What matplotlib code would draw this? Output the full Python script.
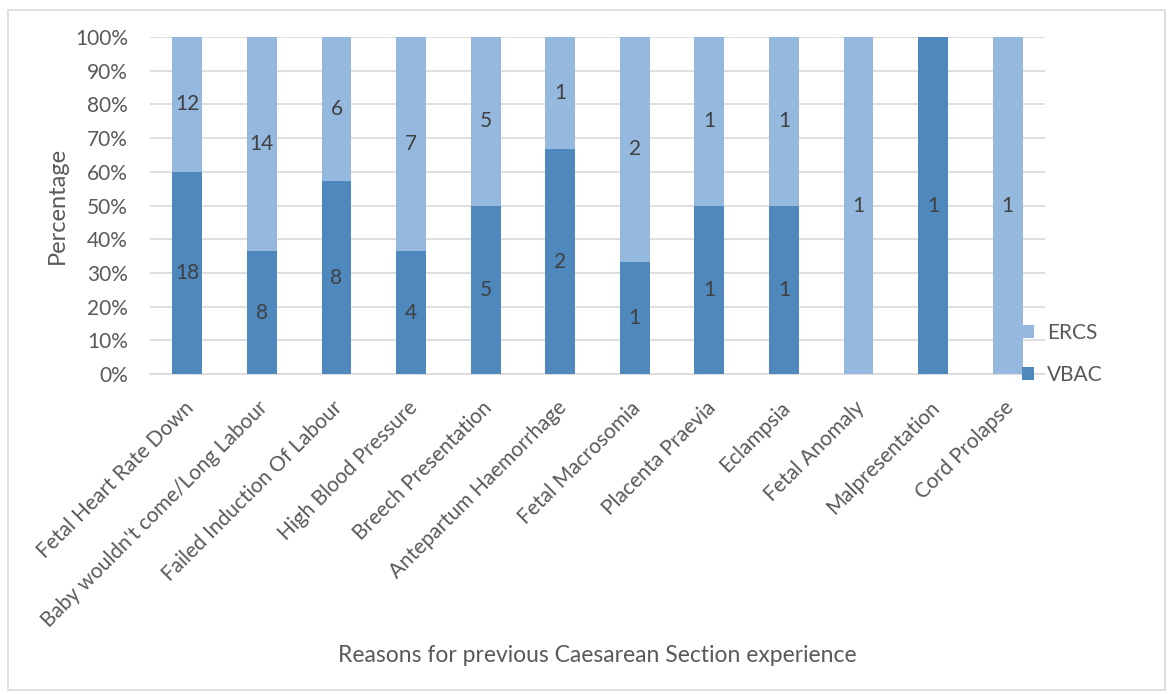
import matplotlib
matplotlib.use("Agg")
import matplotlib.pyplot as plt
from matplotlib.patches import Rectangle
from matplotlib.transforms import ScaledTranslation
import numpy as np

categories = ["Fetal Heart Rate Down", "Baby wouldn't come/Long Labour",
              "Failed Induction Of Labour", "High Blood Pressure",
              "Breech Presentation", "Antepartum Haemorrhage",
              "Fetal Macrosomia", "Placenta Praevia", "Eclampsia",
              "Fetal Anomaly", "Malpresentation", "Cord Prolapse"]
vbac = [18, 8, 8, 4, 5, 2, 1, 1, 1, 0, 1, 0]
ercs = [12, 14, 6, 7, 5, 1, 2, 1, 1, 1, 0, 1]
yticks = [0, 10, 20, 30, 40, 50, 60, 70, 80, 90, 100]

plt.rcParams['font.family'] = ['Lato', 'DejaVu Sans']
TXT = '#595959'
C_VBAC = '#4F88BD'
C_ERCS = '#95B8DF'

fig = plt.figure(figsize=(11.7, 6.94), dpi=100)
W, H = 1170, 694
ax = fig.add_axes([150 / W, 1 - 374 / H, 895 / W, 337 / H])

v = np.array(vbac, float)
e = np.array(ercs, float)
tot = v + e
vp = v / tot * 100
ep = e / tot * 100
x = np.arange(len(categories))
ax.bar(x, vp, width=0.4, color=C_VBAC, label='VBAC', zorder=3)
ax.bar(x, ep, width=0.4, bottom=vp, color=C_ERCS, label='ERCS', zorder=3)

for i in range(len(x)):
    if v[i] > 0:
        ax.text(x[i], vp[i] / 2, f"{int(v[i])}", ha='center', va='center',
                fontsize=15, color='#404040', zorder=4)
    if e[i] > 0:
        ax.text(x[i], vp[i] + ep[i] / 2, f"{int(e[i])}", ha='center', va='center',
                fontsize=15, color='#404040', zorder=4)

ax.set_xlim(-0.5, len(categories) - 0.5)
ax.set_ylim(0, 100)
ax.set_yticks(yticks)
ax.set_yticklabels([f"{t}%" for t in yticks], fontsize=15, color=TXT)
ax.yaxis.grid(True, color='#D9D9D9', linewidth=1.2, zorder=0)
ax.set_axisbelow(True)
for s in ['top', 'right', 'left']:
    ax.spines[s].set_visible(False)
ax.spines['bottom'].set_color('#D9D9D9')
ax.spines['bottom'].set_linewidth(1.2)
ax.tick_params(axis='y', length=0, pad=16)
ax.set_xticks(x)
ax.set_xticklabels(categories, rotation=45, ha='right', rotation_mode='anchor',
                   fontsize=15, color=TXT)
ax.tick_params(axis='x', length=0, pad=17)
off = ScaledTranslation(-4 / 100, 0, fig.dpi_scale_trans)
for lbl in ax.get_xticklabels():
    lbl.set_transform(lbl.get_transform() + off)

fig.text(57 / W, 1 - 205 / H, 'Percentage', rotation=90, ha='center', va='center',
         fontsize=17, color=TXT)
fig.text(597 / W, 1 - 655 / H, 'Reasons for previous Caesarean Section experience',
         ha='center', va='center', fontsize=16.5, color=TXT)

handles, labels = ax.get_legend_handles_labels()
leg = fig.legend(handles[::-1], labels[::-1], loc='center left',
                 bbox_to_anchor=(1003 / W, 1 - 354 / H), frameon=False,
                 fontsize=15, labelcolor=TXT, handlelength=0.6, handleheight=0.6,
                 labelspacing=1.05, handletextpad=0.6)

fig.patches.append(Rectangle((8 / W, 1 - 690 / H), 1157 / W, 680 / H,
                             transform=fig.transFigure, fill=False,
                             edgecolor='#D9D9D9', linewidth=1.2))

fig.savefig('out.png', dpi=100)
